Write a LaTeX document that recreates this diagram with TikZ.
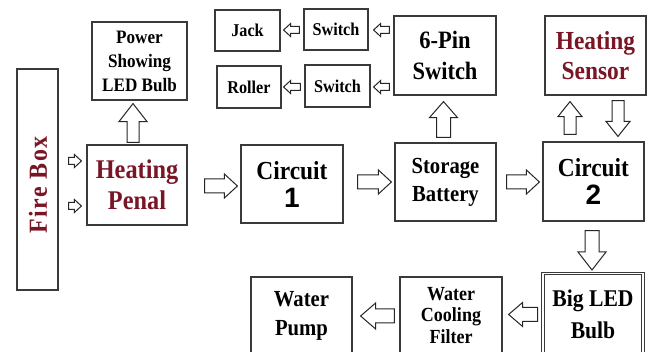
\documentclass[tikz,border=0pt]{standalone}
\usepackage{fontspec}
\setmainfont{Liberation Serif}[FakeStretch=0.9]
\newfontfamily\numf{Liberation Sans}
\newfontfamily\firef{Liberation Serif}[FakeStretch=0.92, LetterSpace=6]
\usetikzlibrary{calc}
\definecolor{boxc}{HTML}{3A3A3A}
\definecolor{firered}{HTML}{7A1526}
\newcommand\fs[2]{\fontsize{#1}{#2}\selectfont\bfseries}
% block arrow: start, end, shaft half width, head half width, head length
\newcommand\blk[5]{%
  \path (#1) coordinate (bS) (#2) coordinate (bE);
  \path ($(bE)!#5!(bS)$) coordinate (bH);
  \draw[arr] ($(bS)!#3!90:(bE)$) -- ($(bH)!#3!-90:(bS)$) -- ($(bH)!#4!-90:(bS)$) -- (bE)
    -- ($(bH)!#4!90:(bS)$) -- ($(bH)!#3!90:(bS)$) -- ($(bS)!#3!-90:(bE)$) -- cycle;
}
\tikzset{
  box/.style={draw=boxc, line width=1.2pt, fill=white, align=center, inner sep=0pt, text=black},
  arr/.style={draw=black!85, line width=1pt, fill=white, line join=miter},
}
\begin{document}
\begin{tikzpicture}[x=1pt,y=-1pt]
\useasboundingbox (0,0) rectangle (654,352);
\fill[white] (0,0) rectangle (654,352);
\clip (0,0) rectangle (654,352);

% boxes
\node[box, minimum width=41pt, minimum height=221pt] (fire) at (37.5,179.5) {};
\node[rotate=90, text=firered, font=\firef\fs{26}{26}, inner sep=0pt] (firetxt) at (38,185) {Fire Box};
\node[box, minimum width=95pt, minimum height=78pt, font=\fs{19}{24}] (pw) at (139.5,61) {Power\\Showing\\LED Bulb};
\node[box, minimum width=100pt, minimum height=80pt, font=\fs{27}{31}, text=firered] (hp) at (137,185) {Heating\\Penal};
\node[box, minimum width=102pt, minimum height=78pt, font=\fs{26}{28}] (c1) at (292,184) {Circuit\\{\numf\bfseries\fontsize{28}{28}\selectfont 1}};
\node[box, minimum width=65pt, minimum height=41pt, font=\fs{18}{20}] (jack) at (247.5,30.5) {Jack};
\node[box, minimum width=64pt, minimum height=42pt, font=\fs{18}{20}] (roller) at (249,87) {Roller};
\node[box, minimum width=64pt, minimum height=41pt, font=\fs{18}{20}] (sw1) at (336,29.5) {Switch};
\node[box, minimum width=65pt, minimum height=42pt, font=\fs{18}{20}] (sw2) at (337.5,86) {Switch};
\node[box, minimum width=102pt, minimum height=79pt, font=\fs{25}{31}] (pin) at (445,55.5) {6-Pin\\Switch};
\node[box, minimum width=101pt, minimum height=78pt, font=\fs{23}{28}] (sb) at (445.5,182) {Storage\\Battery};
\node[box, minimum width=101pt, minimum height=79pt, font=\fs{26}{28}] (c2) at (593.5,181.5) {Circuit\\{\numf\bfseries\fontsize{28}{28}\selectfont 2}};
\node[box, minimum width=101pt, minimum height=79pt, font=\fs{26}{30}, text=firered] (hs) at (595.5,55.5) {Heating\\Sensor};
\node[box, double=white, double distance=1.6pt, line width=1pt, minimum width=100pt, minimum height=82pt, font=\fs{24}{32}] (led) at (593,314.5) {Big LED\\Bulb};
\node[box, minimum width=102pt, minimum height=77pt, font=\fs{20}{21.5}] (filter) at (451,315.5) {Water\\Cooling\\Filter};
\node[box, minimum width=101pt, minimum height=77pt, font=\fs{23}{29}] (pump) at (301.5,315.5) {Water\\Pump};

% arrows
\blk{$(fire.east |- hp.west)+(10,-24)$}{$(hp.west)+(-5,-24)$}{3.5pt}{6.5pt}{7pt}
\blk{$(fire.east |- hp.west)+(10,21)$}{$(hp.west)+(-5,21)$}{3.5pt}{6.5pt}{7pt}
\blk{$(hp.north)+(-4,-2)$}{$(hp.north |- pw.south)+(-4,3)$}{6pt}{14pt}{18pt}
\blk{$(hp.east)+(17,1)$}{$(c1.west |- hp.east)+(-3,1)$}{7pt}{12pt}{13pt}
\blk{$(c1.east)+(14,-2)$}{$(sb.west)+(-3,0)$}{7pt}{12pt}{13pt}
\blk{$(sb.east)+(10,0)$}{$(c2.west |- sb.east)+(-3,0)$}{7pt}{12pt}{13pt}
\blk{$(sb.north)+(-2,-5)$}{$(sb.north |- pin.south)+(-2,6)$}{7pt}{14pt}{16pt}
\blk{$(pin.west |- sw1.east)+(-4,0.5)$}{$(sw1.east)+(5,0.5)$}{3.5pt}{6.5pt}{7pt}
\blk{$(pin.west |- sw2.east)+(-4,1)$}{$(sw2.east)+(3,1)$}{3.5pt}{6.5pt}{7pt}
\blk{$(sw1.west)+(-4,0.5)$}{$(jack.east |- sw1.west)+(3,0.5)$}{3.5pt}{6.5pt}{7pt}
\blk{$(sw2.west)+(-4,1)$}{$(roller.east |- sw2.west)+(2,1)$}{3.5pt}{6.5pt}{7pt}
\blk{$(c2.north)+(-23.5,-7)$}{$(c2.north |- hs.south)+(-23.5,6)$}{6pt}{12pt}{15pt}
\blk{$(hs.south)+(22.5,5)$}{$(hs.south |- c2.north)+(22.5,-5)$}{6pt}{12pt}{15pt}
\blk{$(c2.south)+(-1.5,9)$}{$(c2.south |- led.north)+(-1.5,-3)$}{7pt}{14pt}{18pt}
\blk{$(led.west)+(-5,0)$}{$(filter.east |- led.west)+(6,0)$}{7pt}{12pt}{14pt}
\blk{$(filter.west)+(-5,0.5)$}{$(pump.east |- filter.west)+(8,0.5)$}{7pt}{13pt}{15pt}
\end{tikzpicture}
\end{document}
